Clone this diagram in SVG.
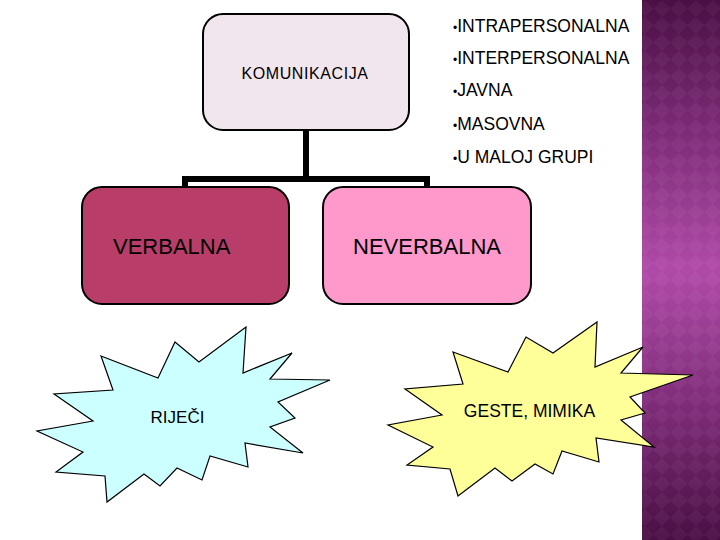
<svg xmlns="http://www.w3.org/2000/svg" width="720" height="540" viewBox="0 0 720 540">
<defs>
<linearGradient id="band" x1="0" y1="0" x2="0" y2="1">
<stop offset="0" stop-color="#4a0f44"/>
<stop offset="0.25" stop-color="#7e2c78"/>
<stop offset="0.5" stop-color="#b04aa8"/>
<stop offset="0.75" stop-color="#7e2c78"/>
<stop offset="1" stop-color="#4a0f44"/>
</linearGradient>
<pattern id="diam" width="24" height="24" patternUnits="userSpaceOnUse" patternTransform="rotate(45)">
<rect x="0" y="0" width="12" height="12" fill="#ffffff" fill-opacity="0.04"/>
<rect x="12" y="12" width="12" height="12" fill="#ffffff" fill-opacity="0.04"/>
</pattern>
</defs>
<style>
.box{stroke:#000;stroke-width:2}
.t{font-family:"Liberation Sans",Arial,sans-serif;fill:#000}
.b{font-size:12px}
.star{stroke:#000;stroke-width:1.2;stroke-linejoin:miter}
.conn{fill:none;stroke:#000;stroke-width:6}
</style>
<rect width="720" height="540" fill="#ffffff"/>
<g id="band-bg">
<rect x="642" y="0" width="78" height="540" fill="url(#band)"/>
<rect x="642" y="0" width="78" height="540" fill="url(#diam)"/>
</g>
<g id="connectors">
<path class="conn" d="M306,130 V179 M185,188 V179 H427 V188"/>
</g>
<g id="komunikacija">
<rect class="box" x="203" y="14" width="206" height="116" rx="20" fill="#f2e6ee"/>
<text class="t" x="305" y="79" font-size="16" text-anchor="middle" letter-spacing="0.6">KOMUNIKACIJA</text>
</g>
<g id="list" font-size="17.5">
<text class="t" x="453" y="32"><tspan class="b">•</tspan>INTRAPERSONALNA</text>
<text class="t" x="453" y="64"><tspan class="b">•</tspan>INTERPERSONALNA</text>
<text class="t" x="453" y="96"><tspan class="b">•</tspan>JAVNA</text>
<text class="t" x="453" y="130"><tspan class="b">•</tspan>MASOVNA</text>
<text class="t" x="453" y="163"><tspan class="b">•</tspan>U MALOJ GRUPI</text>
</g>
<g id="verbalna">
<rect class="box" x="82" y="187" width="207" height="117" rx="20" fill="#b83e69"/>
<text class="t" x="113" y="254" font-size="22">VERBALNA</text>
</g>
<g id="neverbalna">
<rect class="box" x="323" y="187" width="208" height="117" rx="20" fill="#ff99cc"/>
<text class="t" x="427" y="254" font-size="22" text-anchor="middle">NEVERBALNA</text>
</g>
<g id="rijeci">
<polygon class="star" fill="#ccffff" points="101,356 158,378 175,342 199,362 246,327 243,373 292,353 270,379 330,380 278,402 295,418 270,427 303,453 245,443 248,467 210,456 202,480 177,468 160,486 144,474 107,502 105,476 56,472 83,452 37,431 93,421 54,394 113,390"/>
<text class="t" x="177.5" y="423" font-size="17" text-anchor="middle">RIJEČI</text>
</g>
<g id="geste">
<polygon class="star" fill="#ffff99" points="453,352 508,372 526,337 553,353 597,322 595,367 643,347 621,373 693,375 630,397 645,413 621,420 654,447 596,438 599,462 562,451 553,474 535,464 512,481 495,468 458,496 450,469 407,465 433,447 388,425 442,415 405,389 463,384"/>
<text class="t" x="529.5" y="417" font-size="17.5" text-anchor="middle">GESTE, MIMIKA</text>
</g>
</svg>
